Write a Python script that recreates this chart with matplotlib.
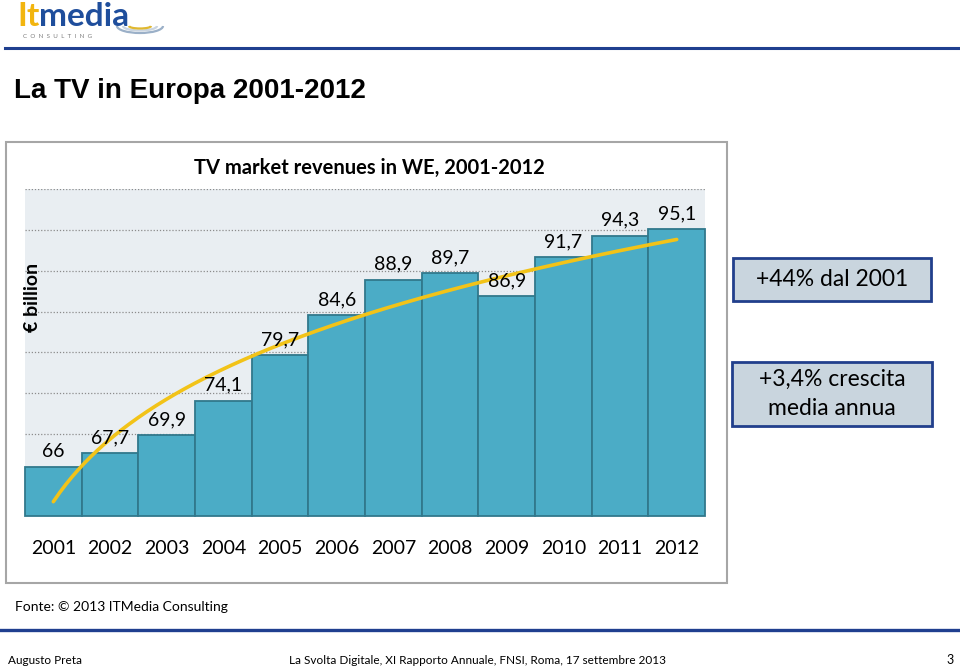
import numpy as np
import matplotlib
matplotlib.use("Agg")
import matplotlib.pyplot as plt
from matplotlib.patches import Rectangle, Arc

# data
years = ['2001', '2002', '2003', '2004', '2005', '2006',
         '2007', '2008', '2009', '2010', '2011', '2012']
revenues = [66, 67.7, 69.9, 74.1, 79.7, 84.6, 88.9, 89.7, 86.9, 91.7, 94.3, 95.1]
value_labels = ['66', '67,7', '69,9', '74,1', '79,7', '84,6',
                '88,9', '89,7', '86,9', '91,7', '94,3', '95,1']
y_min, y_max = 60, 100

W, H = 960, 669
BODY = ['Lato', 'DejaVu Sans']


def fx(x):
    return x / W


def fy(y):
    return 1 - y / H


fig = plt.figure(figsize=(9.6, 6.69), dpi=100)
fig.patch.set_facecolor('white')

# --- slide header: logo, blue rule, title
fig.text(fx(17), fy(17), 'It', color='#F2B50F', fontsize=24, fontweight='bold',
         family='Lato', va='center', ha='left')
fig.text(fx(39), fy(17), 'media', color='#1F4E9C', fontsize=24, fontweight='bold',
         family='Lato', va='center', ha='left')
fig.text(fx(23), fy(37), 'C  O  N  S  U  L  T  I  N  G', color='#7F7F7F', fontsize=4.5,
         family='Lato', va='center', ha='left')
for w_, h_, c_ in [(46, 14, '#9BB0C8'), (34, 9, '#C9D4E0'), (22, 5, '#E0B830')]:
    fig.add_artist(Arc((fx(140), fy(26)), fx(w_), h_ / H, theta1=180, theta2=360,
                       color=c_, lw=1.6, transform=fig.transFigure))
fig.add_artist(plt.Line2D([fx(5), fx(960)], [fy(48), fy(48)], color='#1F3F8F', lw=2.2,
                          transform=fig.transFigure))
fig.text(fx(14), fy(91), 'La TV in Europa 2001-2012', fontsize=20, fontweight='bold',
         family='Liberation Sans', va='center', ha='left', color='black')

# --- chart panel frame
fig.add_artist(Rectangle((fx(6), fy(583)), fx(721), 441 / H, transform=fig.transFigure,
                         facecolor='white', edgecolor='#A6A6A6', lw=1.5, zorder=0))
fig.text(fx(369), fy(168), 'TV market revenues in WE, 2001-2012', fontsize=14.5,
         fontweight='bold', family=BODY, ha='center', va='center')
fig.text(fx(33), fy(297), '€ billion', fontsize=14, fontweight='bold', family=BODY,
         rotation=90, ha='center', va='center')

ax = fig.add_axes([fx(25), fy(516), fx(680), 327 / H])
ax.set_facecolor('#E9EEF2')
pos = np.arange(len(years))
heights = np.array(revenues) - y_min
bars = ax.bar(pos, heights, bottom=y_min, width=1.0, color='#4BACC6', edgecolor='#31788C',
              linewidth=1.3, zorder=2)
for b in bars:
    b.set_clip_on(False)

# power trendline fitted to the revenues (as in the original spreadsheet)
k = np.arange(1, len(revenues) + 1)
slope, inter = np.polyfit(np.log(k), np.log(revenues), 1)
kk = np.linspace(1, len(revenues), 200)
ax.plot(kk - 1, np.exp(inter) * kk ** slope, color='#F2C318', lw=2.6, zorder=4,
        solid_capstyle='round')

for p, v, lab in zip(pos, revenues, value_labels):
    ax.annotate(lab, (p, v), xytext=(0, 5), textcoords='offset points', ha='center',
                va='bottom', fontsize=14, family=BODY, zorder=5)

ax.set_xlim(-0.5, len(years) - 0.5)
ax.set_ylim(y_min, y_max)
ax.set_yticks(np.arange(y_min, y_max + 1, 5))
ax.set_yticklabels([])
ax.set_xticks(pos)
ax.set_xticklabels(years, fontsize=14, family=BODY)
ax.tick_params(axis='x', length=0, pad=17)
ax.tick_params(axis='y', length=0)
ax.grid(axis='y', color='#8C8C8C', linestyle=(0, (1, 1.5)), lw=0.9)
ax.set_axisbelow(True)
for s in ax.spines.values():
    s.set_visible(False)

# --- callout boxes
for (x0, y0, x1, y1), txt in [((733, 258, 931, 301), '+44% dal 2001'),
                              ((732, 362, 932, 426), '+3,4% crescita\nmedia annua')]:
    fig.add_artist(Rectangle((fx(x0), fy(y1)), fx(x1 - x0), (y1 - y0) / H,
                             transform=fig.transFigure, facecolor='#C9D5DE',
                             edgecolor='#213F8C', lw=2))
    fig.text(fx((x0 + x1) / 2), fy((y0 + y1) / 2), txt, fontsize=16.5, family=BODY,
             ha='center', va='center', linespacing=1.45)

# --- footer
fig.text(fx(15), fy(607), 'Fonte: © 2013 ITMedia Consulting', fontsize=10, family=BODY,
         ha='left', va='center')
fig.add_artist(plt.Line2D([0, 1], [fy(630), fy(630)], color='#1F3F8F', lw=2.4,
                          transform=fig.transFigure))
fig.text(fx(8), fy(661), 'Augusto Preta', fontsize=8.5, family=BODY, ha='left', va='center')
fig.text(fx(289), fy(661), 'La Svolta Digitale, XI Rapporto Annuale, FNSI, Roma, 17 settembre 2013',
         fontsize=8.5, family=BODY, ha='left', va='center')
fig.text(fx(954), fy(660), '3', fontsize=9, family=BODY, ha='right', va='center')

fig.savefig('out.png', dpi=100, facecolor='white')
